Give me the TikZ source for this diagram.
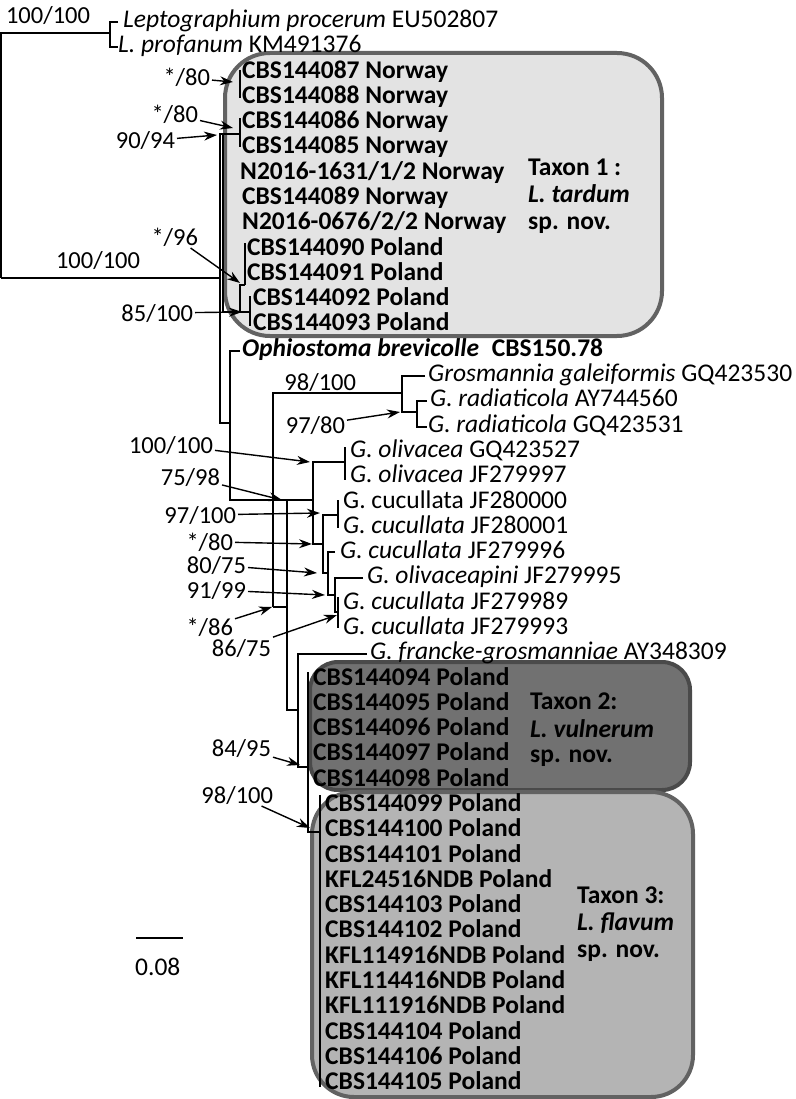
\documentclass[tikz,border=0pt]{standalone}
\usepackage{fontspec}
\setmainfont{Carlito}
\usetikzlibrary{arrows.meta}
\definecolor{boxone}{HTML}{E3E3E3}
\definecolor{boxtwo}{HTML}{717171}
\definecolor{boxthree}{HTML}{B4B4B4}
\definecolor{boxline}{HTML}{626262}
\newcommand{\ry}[1]{20+25.29*#1+7.5} % baseline of leaf row #1

\begin{document}
\begin{tikzpicture}[x=1pt,y=-1pt,
    branch/.style={line width=1.4pt},
    leaf/.style={anchor=base west,inner sep=0pt,font=\fontsize{25.5}{25}\selectfont},
    taxa/.style={leaf,font=\fontsize{25.5}{25}\selectfont\bfseries},
    support/.style={anchor=base east,inner sep=0pt,outer sep=2pt,font=\fontsize{24.5}{25}\selectfont},
    pointer/.style={-{Stealth[length=13pt,width=9pt]},line width=1.4pt},
    clade/.style={rounded corners=#1,line width=4pt,draw=boxline}]
    \useasboundingbox (0,0) rectangle (795,1099);

    % clade boxes
    \draw[clade=45,fill=boxone] (225,53) rectangle (662,336);
    \draw[clade=28,fill=boxtwo,draw=boxline!75!black] (310,662) rectangle (690,790);
    \draw[clade=42,fill=boxthree] (312,792) rectangle (693,1097);

    % tree
    \draw[branch] (1,278) -- (1,33) -- (110,33);
    \draw[branch] (118,22) -- (110,22) -- (110,47) -- (118,47);
    \draw[branch] (1,278) -- (220,278);
    \draw[branch] (240,134) -- (220,134) -- (220,423) -- (230,423);
    \draw[branch] (223,134) -- (223,312) -- (250,312);
    \draw[branch] (240,70) -- (240,98);
    \draw[branch] (240,118) -- (240,147);
    \draw[branch] (240,312) -- (240,285) -- (245,285);
    \draw[branch] (245,243) -- (245,285);
    \draw[branch] (250,296) -- (250,326);
    \draw[branch] (240,351) -- (230,351) -- (230,500) -- (313,500);
    \draw[branch] (273,607) -- (273,393) -- (402,393);
    \draw[branch] (425,376) -- (402,376) -- (402,412) -- (417,412);
    \draw[branch] (427,401) -- (417,401) -- (417,427) -- (427,427);
    \draw[branch] (273,607) -- (287,607);
    \draw[branch] (287,500) -- (287,710) -- (298,710);
    \draw[branch] (345,462) -- (313,462) -- (313,544) -- (323,544);
    \draw[branch] (345,447) -- (345,480);
    \draw[branch] (338,515) -- (323,515) -- (323,573) -- (328,573);
    \draw[branch] (338,500) -- (338,528);
    \draw[branch] (335,552) -- (328,552) -- (328,595) -- (335,595);
    \draw[branch] (363,578) -- (335,578) -- (335,612) -- (338,612);
    \draw[branch] (338,597) -- (338,628);
    \draw[branch] (367,654) -- (298,654) -- (298,767) -- (308,767);
    \draw[branch] (308,672) -- (308,832) -- (320,832);
    \draw[branch] (320,795) -- (320,1087);
    \draw[branch] (136,938) -- (183,938); % scale bar
    \node[leaf] (scale) at (135,975) {0.08};

    % leaves
    \node[leaf] (lp) at (123,{\ry{0}}) {\textit{Leptographium procerum} EU502807};
    \node[leaf] (lf) at (118,{\ry{1}}) {\textit{L. profanum} KM491376};
    \foreach \xx/\lbl [count=\i from 2] in {242/CBS144087 Norway, 242/CBS144088 Norway,
        242/CBS144086 Norway, 242/CBS144085 Norway, 240/{N2016-1631/1/2 Norway},
        242/CBS144089 Norway, 242/{N2016-0676/2/2 Norway}, 247/CBS144090 Poland,
        247/CBS144091 Poland, 253/CBS144092 Poland, 253/CBS144093 Poland}
        \node[taxa] (t\i) at (\xx,{\ry{\i}}) {\lbl};
    \node[taxa] (ob) at (242,{\ry{13}}) {\textit{Ophiostoma brevicolle}\enspace CBS150.78};
    \node[leaf] (gg) at (428,{\ry{14}}) {\textit{Grosmannia galeiformis} GQ423530};
    \node[leaf] (gr1) at (430,{\ry{15}}) {\textit{G. radiaticola} AY744560};
    \node[leaf] (gr2) at (428,{\ry{16}}) {\textit{G. radiaticola} GQ423531};
    \node[leaf] (go1) at (350,{\ry{17}}) {\textit{G. olivacea} GQ423527};
    \node[leaf] (go2) at (350,{\ry{18}}) {\textit{G. olivacea} JF279997};
    \node[leaf] (gc1) at (343,{\ry{19}}) {G. cucullata JF280000};
    \node[leaf] (gc2) at (343,{\ry{20}}) {\textit{G. cucullata} JF280001};
    \node[leaf] (gc3) at (340,{\ry{21}}) {\textit{G. cucullata} JF279996};
    \node[leaf] (gp) at (367,{\ry{22}}) {\textit{G. olivaceapini} JF279995};
    \node[leaf] (gc4) at (343,{\ry{23}}) {\textit{G. cucullata} JF279989};
    \node[leaf] (gc5) at (343,{\ry{24}}) {\textit{G. cucullata} JF279993};
    \node[leaf] (gf) at (370,{\ry{25}}) {\textit{G. francke-grosmanniae} AY348309};
    \foreach \lbl [count=\i from 26] in {CBS144094,CBS144095,CBS144096,CBS144097,CBS144098}
        \node[taxa] (t\i) at (313,{\ry{\i}}) {\lbl{} Poland};
    \foreach \lbl [count=\i from 31] in {CBS144099,CBS144100,CBS144101,KFL24516NDB,
        CBS144103,CBS144102,KFL114916NDB,KFL114416NDB,KFL111916NDB,CBS144104,
        CBS144106,CBS144105}
        \node[taxa] (t\i) at (325,{\ry{\i}}) {\lbl{} Poland};

    % taxon names
    \node[taxa] (xa1) at (528,175.5) {Taxon 1 :};
    \node[taxa] (xa2) at (528,202.5) {\textit{L. tardum}};
    \node[taxa] (xa3) at (528,229.5) {sp. nov.};
    \node[taxa] (xb1) at (530,709.5) {Taxon 2:};
    \node[taxa] (xb2) at (530,737.5) {\textit{L. vulnerum}};
    \node[taxa] (xb3) at (530,762.5) {sp. nov.};
    \node[taxa] (xc1) at (577,903.5) {Taxon 3:};
    \node[taxa] (xc2) at (577,930.5) {\textit{L. flavum}};
    \node[taxa] (xc3) at (577,957.5) {sp. nov.};

    % support values
    \node[support] (s1) at (92,24) {100/100};
    \node[support] (s2) at (142,269) {100/100};
    \node[support] (s3) at (212,86) {*/80};
    \node[support] (s4) at (200,123) {*/80};
    \node[support] (s5) at (177,149) {90/94};
    \node[support] (s6) at (200,245) {*/96};
    \node[support] (s7) at (195,321) {85/100};
    \node[support] (s8) at (358,390) {98/100};
    \node[support] (s9) at (347,433) {97/80};
    \node[support] (s10) at (215,453) {100/100};
    \node[support] (s11) at (222,485) {75/98};
    \node[support] (s12) at (238,523) {97/100};
    \node[support] (s13) at (235,550) {*/80};
    \node[support] (s14) at (248,573) {80/75};
    \node[support] (s15) at (248,598) {91/99};
    \node[support] (s16) at (235,635) {*/86};
    \node[support] (s17) at (273,656) {86/75};
    \node[support] (s18) at (273,756) {84/95};
    \node[support] (s19) at (275,803) {98/100};
    \foreach \nm/\tx/\ty in {s3/233/82, s4/233/128, s5/217/135, s6/240/283, s7/242/312,
        s9/400/412, s10/310/462, s11/282/500, s12/320/513, s13/312/544, s14/317/573,
        s15/325/595, s16/272/607, s17/337/615, s18/300/765, s19/310/828}
    {
        \coordinate (p\nm) at (\tx,\ty);
        \draw[pointer] (\nm) -- (p\nm);
    }
\end{tikzpicture}
\end{document}
